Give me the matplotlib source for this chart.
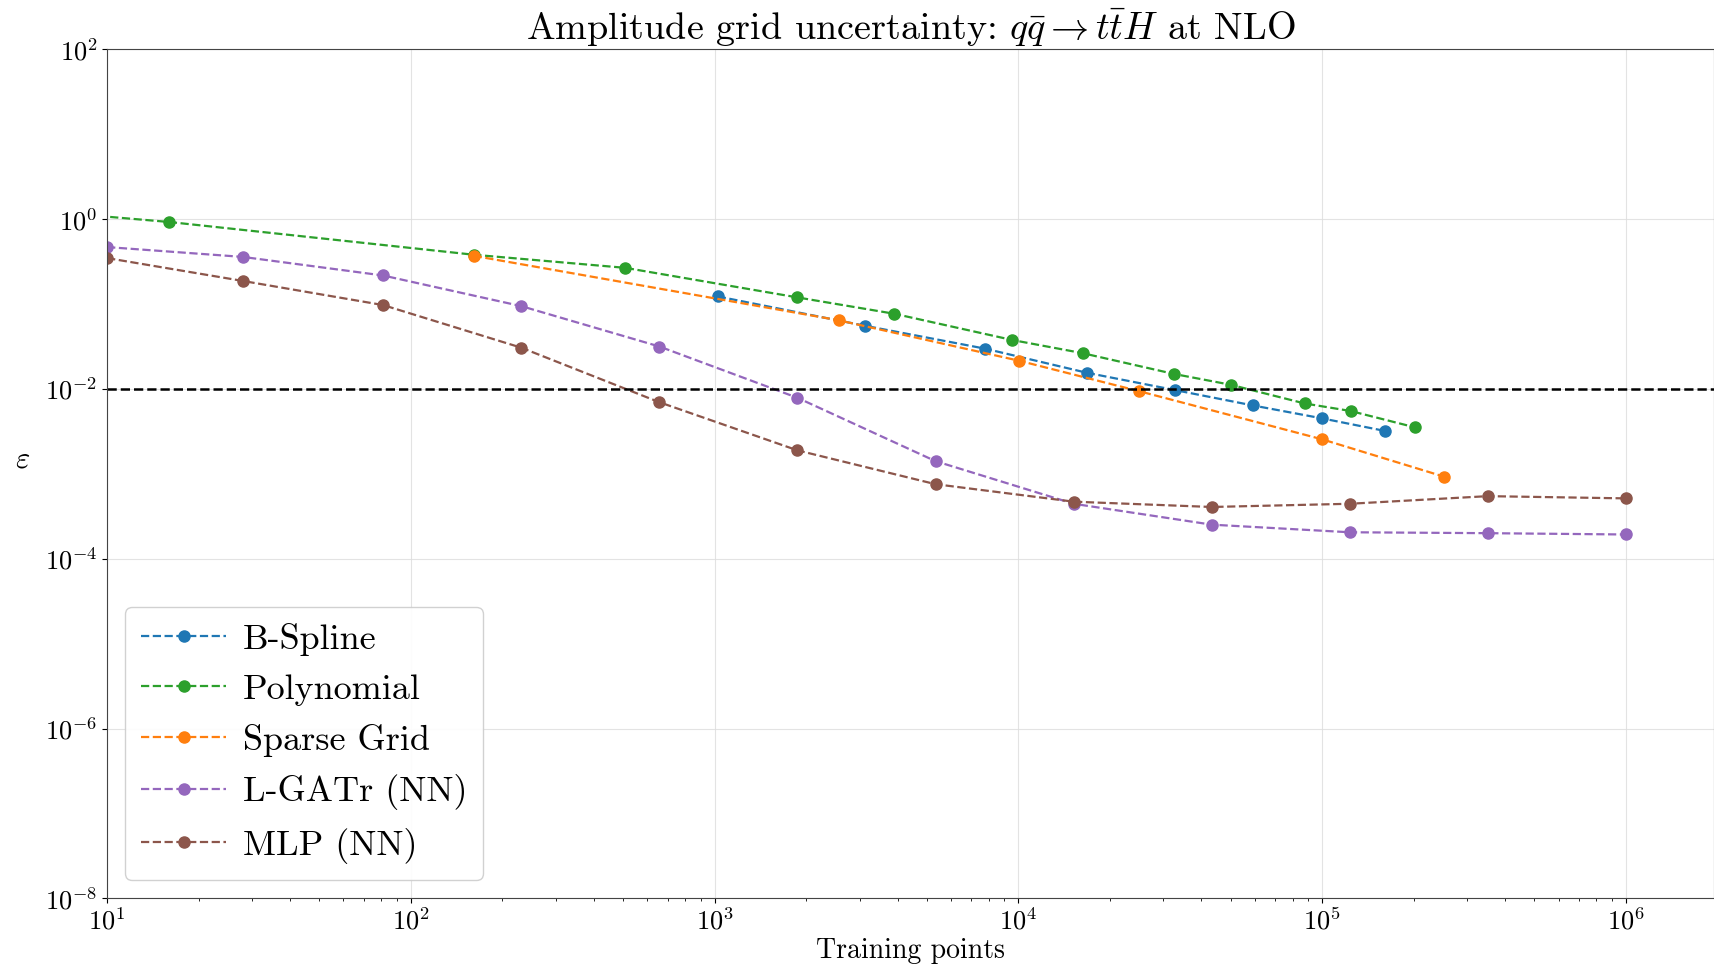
import numpy as np
import matplotlib
matplotlib.use("Agg")
import matplotlib.pyplot as plt

plt.rcParams['font.family'] = 'serif'
plt.rcParams['font.serif'] = ['cmr10', 'DejaVu Serif']
plt.rcParams['mathtext.fontset'] = 'cm'
plt.rcParams['axes.formatter.use_mathtext'] = True
plt.rcParams['axes.unicode_minus'] = False

# B-spline: n^5 training points
bspline_n = [1024, 3125, 7776, 16807, 32768, 59049, 100000, 161051]
bspline_eps = [0.123, 0.0555, 0.0298, 0.0155, 0.0097, 0.0064, 0.0045, 0.0032]

poly_n = [6, 16, 161, 508, 1866, 3906, 9550, 16260, 32580, 50000, 87500, 124000, 202000]
poly_eps = [1.25, 0.926, 0.381, 0.267, 0.120, 0.0768, 0.0377, 0.0264, 0.0150, 0.0112,
            0.00675, 0.0055, 0.00353]

sparse_n = [161, 2560, 10050, 25000, 100000, 251000]
sparse_eps = [0.37, 0.0644, 0.0215, 0.0094, 0.00255, 0.00093]

nn_n = [10, 28, 81, 231, 658, 1874, 5337, 15199, 43288, 123285, 351119, 1000000]
lgatr_eps = [0.469, 0.359, 0.217, 0.0945, 0.0316, 0.00786, 0.00141, 0.000444,
             0.000252, 0.000205, 0.0002, 0.000193]
mlp_eps = [0.348, 0.187, 0.0973, 0.0306, 0.00697, 0.00189, 0.000755, 0.00047,
           0.000407, 0.000444, 0.000546, 0.000514]

target_eps = 1e-2

fig = plt.figure(figsize=(17.14, 9.68), dpi=100)
ax = fig.add_axes([0.0625, 0.072, 0.9375, 0.877])

style = dict(linestyle='--', marker='o', markersize=8, linewidth=1.6)
ax.plot(bspline_n, bspline_eps, color='tab:blue', label='B-Spline', **style)
ax.plot(poly_n, poly_eps, color='tab:green', label='Polynomial', **style)
ax.plot(sparse_n, sparse_eps, color='tab:orange', label='Sparse Grid', **style)
ax.plot(nn_n, lgatr_eps, color='tab:purple', label='L-GATr (NN)', **style)
ax.plot(nn_n, mlp_eps, color='tab:brown', label='MLP (NN)', **style)

ax.axhline(target_eps, color='black', linestyle='--', linewidth=1.8)

ax.set_xscale('log')
ax.set_yscale('log')
ax.set_xlim(10, 1.95e6)
ax.set_ylim(1e-8, 1e2)
ax.set_yticks([1e-8, 1e-6, 1e-4, 1e-2, 1e0, 1e2])
ax.yaxis.set_minor_locator(matplotlib.ticker.NullLocator())
ax.tick_params(labelsize=19)
ax.grid(True, which='major', color='#dddddd', linewidth=0.8, alpha=0.8)

for s in ax.spines.values():
    s.set_color('#444444')

ax.set_xlabel('Training points', fontsize=20, labelpad=2)
ax.set_ylabel(r'$\varepsilon$', fontsize=22, rotation=0, labelpad=16)
ax.set_title(r'Amplitude grid uncertainty: $q\bar{q}\to t\bar{t}H$ at NLO', fontsize=27.5, pad=3)

ax.legend(loc='lower left', fontsize=26, handlelength=2.35, handletextpad=0.45,
          borderpad=0.45, labelspacing=0.49, framealpha=0.9, edgecolor='#cccccc')

fig.savefig('out.png', dpi=100)
